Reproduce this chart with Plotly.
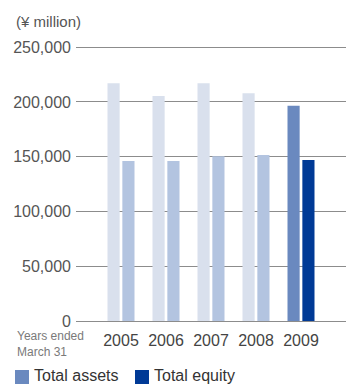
import plotly.graph_objects as go

years = ["2005", "2006", "2007", "2008", "2009"]
total_assets = [217000, 205500, 217000, 208000, 196500]
total_equity = [146000, 146000, 150500, 151500, 147000]
assets_colors = ["#d9e0ed", "#d9e0ed", "#d9e0ed", "#d9e0ed", "#6a89bf"]
equity_colors = ["#b3c4e0", "#b3c4e0", "#b3c4e0", "#b3c4e0", "#003a96"]
y_ticks = [0, 50000, 100000, 150000, 200000, 250000]

FONT = "Liberation Sans, Arial, sans-serif"

W, H = 346, 385
L, R, T, B = 76, 0, 45, 64

fig = go.Figure()
fig.add_trace(go.Bar(x=years, y=total_assets, name="Total assets",
                     marker=dict(color=assets_colors, line=dict(width=0)),
                     width=0.27, offset=-0.3, showlegend=False))
fig.add_trace(go.Bar(x=years, y=total_equity, name="Total equity",
                     marker=dict(color=equity_colors, line=dict(width=0)),
                     width=0.27, offset=0.03, showlegend=False))

fig.update_layout(
    width=W, height=H,
    margin=dict(l=L, r=R, t=T, b=B),
    paper_bgcolor="white", plot_bgcolor="white",
    font=dict(family=FONT, color="#555555", size=16),
    xaxis=dict(type="category", range=[-1, 5], showgrid=False, showline=False,
               zeroline=False, ticks="", ticklabelstandoff=8,
               tickfont=dict(size=16, color="#444444")),
    yaxis=dict(range=[0, 252000], tickvals=y_ticks, tickformat=",d",
               showgrid=True, gridcolor="#8c8c8c", gridwidth=1.3,
               zeroline=True, zerolinecolor="#8c8c8c", zerolinewidth=1.3,
               showline=False, ticks="", ticklabelstandoff=4,
               tickfont=dict(size=16, color="#555555")),
)

pw, ph = W - L - R, H - T - B
def px(x):
    return (x - L) / pw
def py(y):
    return (H - B - y) / ph

anns = [
    dict(text="(¥ million)", x=px(14), y=py(21), xanchor="left", yanchor="middle",
         font=dict(size=15, color="#555555")),
    dict(text="Years ended<br>March 31", x=px(15), y=py(344), xanchor="left",
         yanchor="middle", align="left", font=dict(size=12, color="#7a7a7a")),
    dict(text="Total assets", x=px(32), y=py(375), xanchor="left", yanchor="middle",
         font=dict(size=16, color="#333333")),
    dict(text="Total equity", x=px(152), y=py(375), xanchor="left", yanchor="middle",
         font=dict(size=16, color="#333333")),
]
for a in anns:
    a.update(xref="paper", yref="paper", showarrow=False)
fig.layout.annotations = anns

fig.add_shape(type="rect", xref="paper", yref="paper", x0=px(15), x1=px(29),
              y0=py(384), y1=py(370), fillcolor="#6a89bf", line=dict(width=0))
fig.add_shape(type="rect", xref="paper", yref="paper", x0=px(135), x1=px(149),
              y0=py(384), y1=py(370), fillcolor="#003a96", line=dict(width=0))

fig.write_html("out.html")
